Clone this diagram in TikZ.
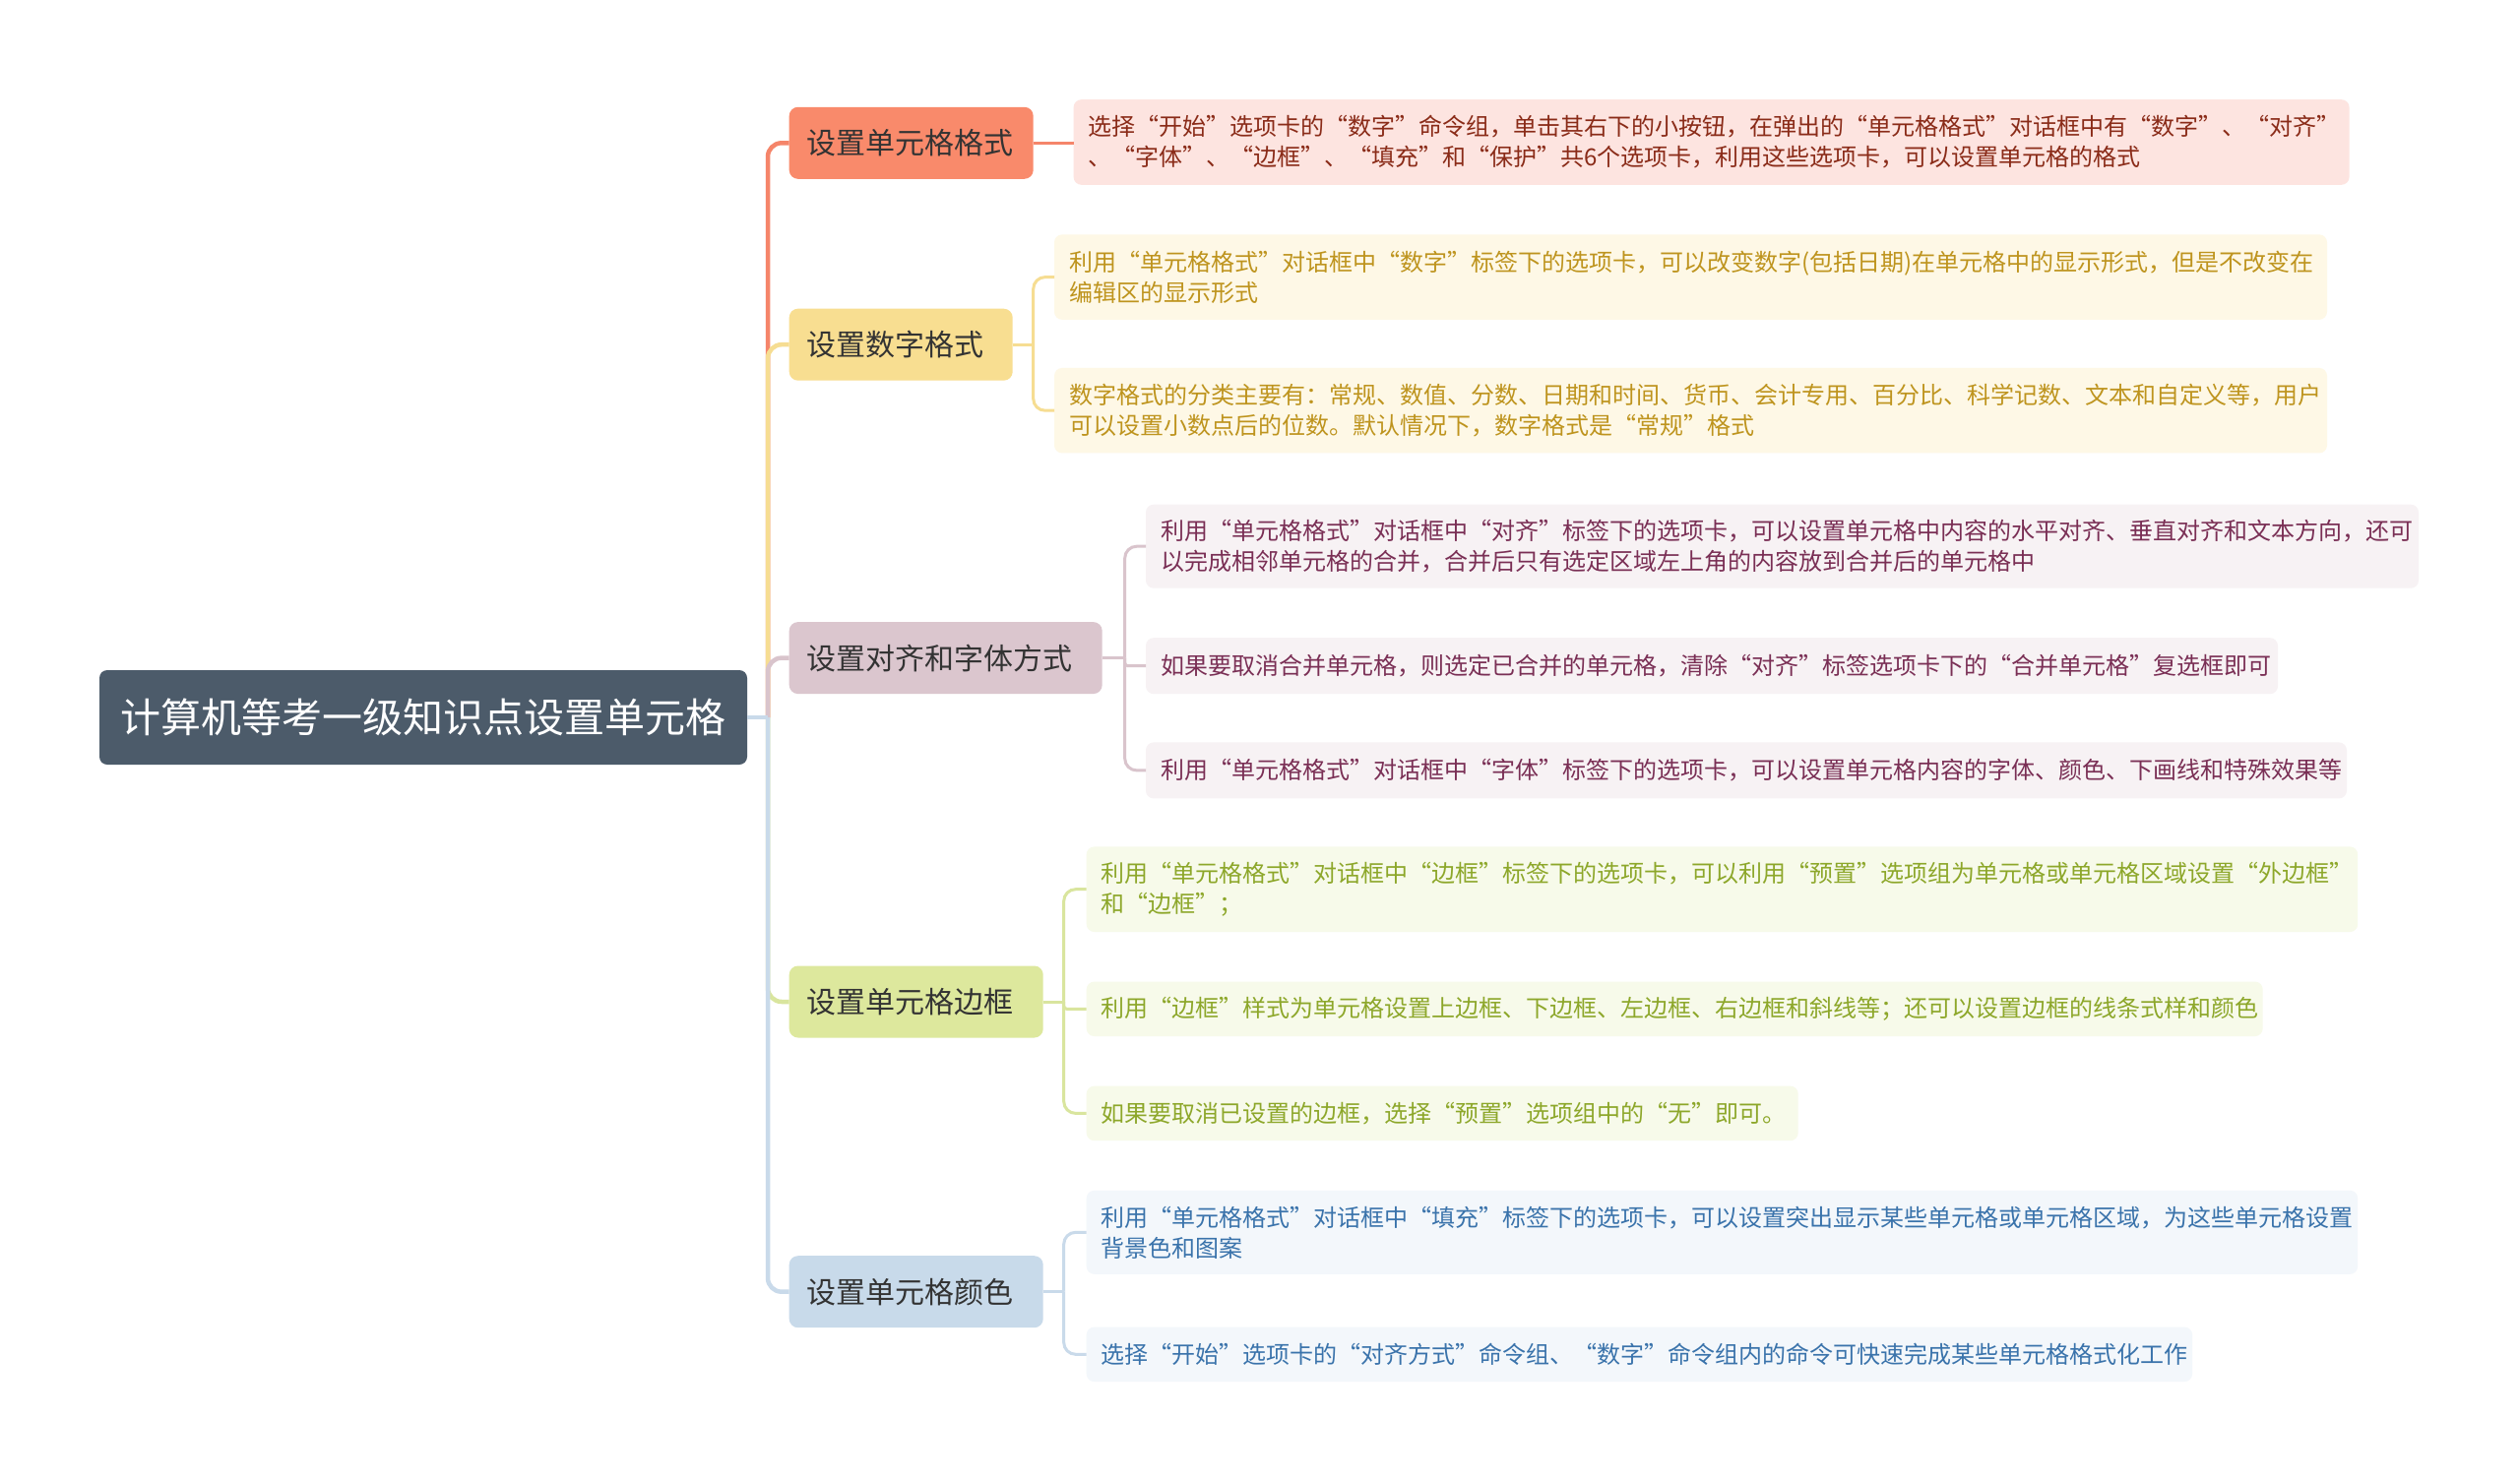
\documentclass[tikz,border=0pt]{standalone}
\usepackage{fontspec}
\setmainfont{Noto Sans CJK SC}
\definecolor{rootc}{HTML}{4C5B6A}
\definecolor{textc}{HTML}{333333}
\definecolor{c1}{HTML}{F98A6B}
\definecolor{c1line}{HTML}{F5856A}
\definecolor{c1leaf}{HTML}{FDE4E0}
\definecolor{c1text}{HTML}{8A2B18}
\definecolor{c2}{HTML}{F8DE91}
\definecolor{c2line}{HTML}{F6DD92}
\definecolor{c2leaf}{HTML}{FEF8E6}
\definecolor{c2text}{HTML}{BE941E}
\definecolor{c3}{HTML}{DBC6CE}
\definecolor{c3line}{HTML}{D9C4CC}
\definecolor{c3leaf}{HTML}{F7F2F4}
\definecolor{c3text}{HTML}{7A2F55}
\definecolor{c4}{HTML}{DDE89D}
\definecolor{c4line}{HTML}{D9E59E}
\definecolor{c4leaf}{HTML}{F7FAEA}
\definecolor{c4text}{HTML}{8DA72A}
\definecolor{c5}{HTML}{C8DAEA}
\definecolor{c5line}{HTML}{C9DAEA}
\definecolor{c5leaf}{HTML}{F3F7FB}
\definecolor{c5text}{HTML}{3A73AB}
\begin{document}
\begin{tikzpicture}[x=1pt,y=-1pt,
  every node/.style={inner sep=0pt, outer sep=0pt},
  rootbox/.style={fill=rootc, rounded corners=8pt, text=white, font=\fontsize{41}{48}\selectfont, minimum height=96pt, anchor=west},
  branchbox/.style={rounded corners=9pt, text=textc, font=\fontsize{30}{36}\selectfont, inner xsep=18pt, minimum height=73pt, anchor=west, align=left},
  leafbox/.style={rounded corners=8pt, font=\fontsize{24}{31}\selectfont, inner xsep=15pt, anchor=west, align=left},
  trunk/.style={line width=4.5pt, rounded corners=14pt},
  twig/.style={line width=3pt, rounded corners=12pt},
]
\fill[white] (0,0) rectangle (2560,1504);
\useasboundingbox (0,0) rectangle (2560,1504);

% root
\node[rootbox, minimum width=658pt] (root) at (101,729) {计算机等考一级知识点设置单元格};

% branches
\node[branchbox, fill=c1, text width=212pt] (b1) at (801.7,145.3) {设置单元格格式};
\node[branchbox, fill=c2, text width=191pt] (b2) at (801.7,350.2) {设置数字格式};
\node[branchbox, fill=c3, text width=282pt] (b3) at (801.7,668.6) {设置对齐和字体方式};
\node[branchbox, fill=c4, text width=222pt] (b4) at (801.7,1018) {设置单元格边框};
\node[branchbox, fill=c5, text width=222pt] (b5) at (801.7,1312.7) {设置单元格颜色};

% leaves
\node[leafbox, fill=c1leaf, text=c1text, text width=1266pt, minimum height=86.6pt] (l1a) at (1090.6,144.5)
  {选择“开始”选项卡的“数字”命令组，单击其右下的小按钮，在弹出的“单元格格式”对话框中有“数字”、“对齐”\\、“字体”、“边框”、“填充”和“保护”共6个选项卡，利用这些选项卡，可以设置单元格的格式};
\node[leafbox, fill=c2leaf, text=c2text, text width=1263pt, minimum height=86.5pt] (l2a) at (1071,281.6)
  {利用“单元格格式”对话框中“数字”标签下的选项卡，可以改变数字(包括日期)在单元格中的显示形式，但是不改变在\\编辑区的显示形式};
\node[leafbox, fill=c2leaf, text=c2text, text width=1263pt, minimum height=86.5pt] (l2b) at (1071,417.2)
  {数字格式的分类主要有：常规、数值、分数、日期和时间、货币、会计专用、百分比、科学记数、文本和自定义等，用户\\可以设置小数点后的位数。默认情况下，数字格式是“常规”格式};
\node[leafbox, fill=c3leaf, text=c3text, text width=1263pt, minimum height=85pt] (l3a) at (1164,555.2)
  {利用“单元格格式”对话框中“对齐”标签下的选项卡，可以设置单元格中内容的水平对齐、垂直对齐和文本方向，还可\\以完成相邻单元格的合并，合并后只有选定区域左上角的内容放到合并后的单元格中};
\node[leafbox, fill=c3leaf, text=c3text, text width=1120pt, minimum height=57pt] (l3b) at (1164,676.7)
  {如果要取消合并单元格，则选定已合并的单元格，清除“对齐”标签选项卡下的“合并单元格”复选框即可};
\node[leafbox, fill=c3leaf, text=c3text, text width=1190pt, minimum height=57pt] (l3c) at (1164,782.9)
  {利用“单元格格式”对话框中“字体”标签下的选项卡，可以设置单元格内容的字体、颜色、下画线和特殊效果等};
\node[leafbox, fill=c4leaf, text=c4text, text width=1261.5pt, minimum height=86.6pt] (l4a) at (1103.7,903.7)
  {利用“单元格格式”对话框中“边框”标签下的选项卡，可以利用“预置”选项组为单元格或单元格区域设置“外边框”\\和“边框”；};
\node[leafbox, fill=c4leaf, text=c4text, text width=1165pt, minimum height=55.5pt] (l4b) at (1103.7,1025.3)
  {利用“边框”样式为单元格设置上边框、下边框、左边框、右边框和斜线等；还可以设置边框的线条式样和颜色};
\node[leafbox, fill=c4leaf, text=c4text, text width=693pt, minimum height=55.5pt] (l4c) at (1103.7,1131.4)
  {如果要取消已设置的边框，选择“预置”选项组中的“无”即可。};
\node[leafbox, fill=c5leaf, text=c5text, text width=1261.5pt, minimum height=85pt] (l5a) at (1103.7,1252.3)
  {利用“单元格格式”对话框中“填充”标签下的选项卡，可以设置突出显示某些单元格或单元格区域，为这些单元格设置\\背景色和图案};
\node[leafbox, fill=c5leaf, text=c5text, text width=1093.4pt, minimum height=55.5pt] (l5b) at (1103.7,1376.3)
  {选择“开始”选项卡的“对齐方式”命令组、“数字”命令组内的命令可快速完成某些单元格格式化工作};

% root to branches
\coordinate (hub) at ([xshift=21pt]root.east);
\draw[trunk, c1line] (hub) |- (b1.west);
\draw[trunk, c2line] (hub) |- (b2.west);
\draw[trunk, c3line] (hub) |- (b3.west);
\draw[trunk, c4line] (hub) |- (b4.west);
\draw[trunk, c5line] (hub) |- (b5.west);
\draw[trunk, c5line] (root.east) -- (hub);

% branch 1
\draw[twig, c1line] (b1.east) -- (b1.east -| l1a.west);

% branch 2
\coordinate (h2) at ([xshift=21pt]b2.east);
\draw[twig, c2line] (b2.east) -- (h2);
\draw[twig, c2line] (h2) |- (l2a.west);
\draw[twig, c2line] (h2) |- (l2b.west);

% branch 3
\coordinate (h3) at ([xshift=23pt]b3.east);
\draw[twig, c3line] (b3.east) -- (h3);
\draw[twig, c3line] (h3) |- (l3a.west);
\draw[twig, c3line, rounded corners=3pt] (h3) |- (l3b.west);
\draw[twig, c3line] (h3) |- (l3c.west);

% branch 4
\coordinate (h4) at ([xshift=21pt]b4.east);
\draw[twig, c4line] (b4.east) -- (h4);
\draw[twig, c4line] (h4) |- (l4a.west);
\draw[twig, c4line, rounded corners=3pt] (h4) |- (l4b.west);
\draw[twig, c4line] (h4) |- (l4c.west);

% branch 5
\coordinate (h5) at ([xshift=21pt]b5.east);
\draw[twig, c5line] (b5.east) -- (h5);
\draw[twig, c5line] (h5) |- (l5a.west);
\draw[twig, c5line] (h5) |- (l5b.west);
\end{tikzpicture}
\end{document}
